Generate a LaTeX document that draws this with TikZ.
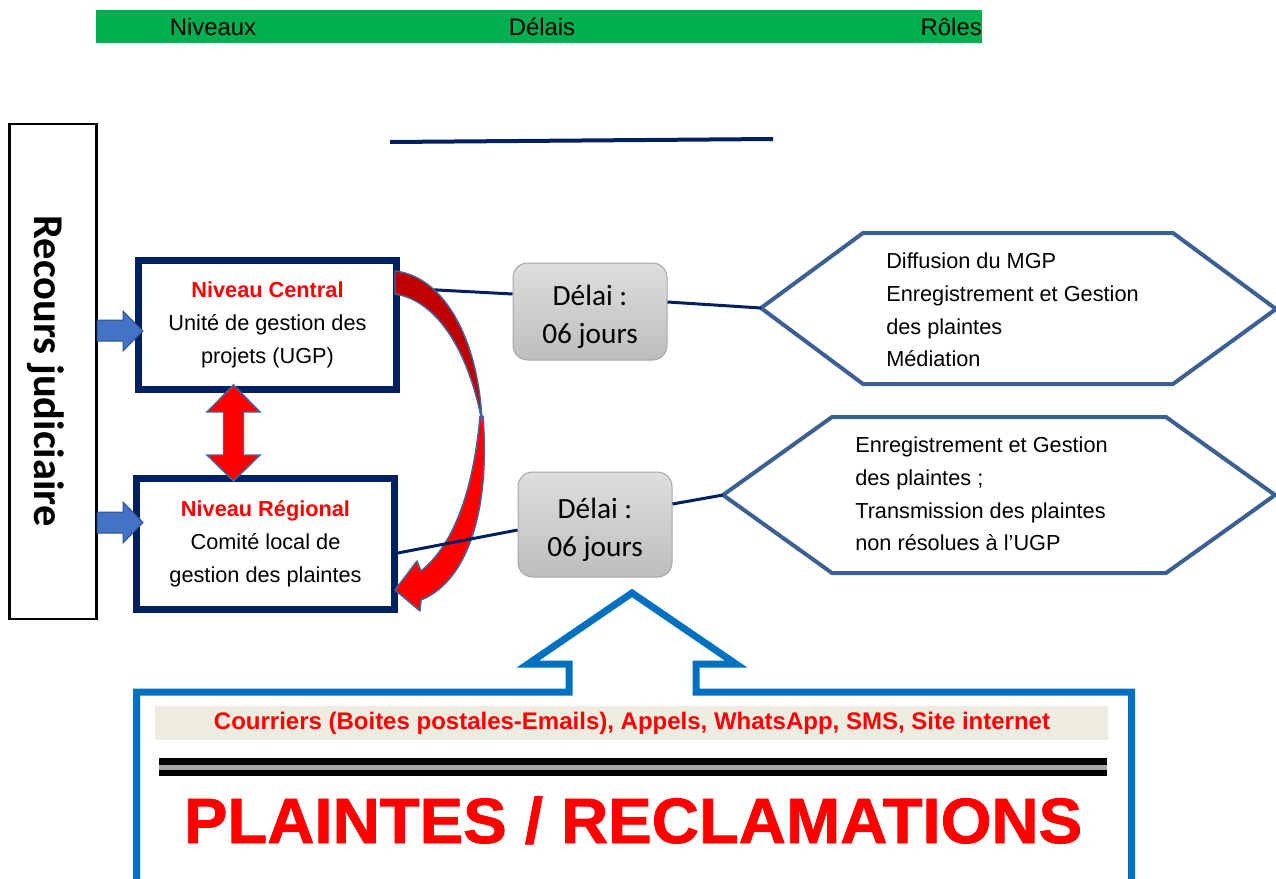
\documentclass[tikz,border=0pt]{standalone}
\usepackage{fontspec}
\setmainfont{Liberation Sans}
\newfontfamily\calibri{Carlito}
\newfontfamily\heavysans[FakeBold=1.3]{Liberation Sans Bold}
\usetikzlibrary{calc}
\definecolor{navy}{HTML}{002060}
\definecolor{hdrgreen}{HTML}{00B050}
\definecolor{hexblue}{HTML}{3C6091}
\definecolor{arrowblue}{HTML}{4472C4}
\definecolor{arrowedge}{HTML}{2F528F}
\definecolor{edgeblue}{HTML}{41669C}
\definecolor{darkred}{HTML}{C00000}
\definecolor{calloutblue}{HTML}{0070C0}
\definecolor{bandgray}{HTML}{EEECE1}
\definecolor{delaitop}{HTML}{DEDEDE}
\definecolor{delaibot}{HTML}{BDBDBD}
\definecolor{delaiedge}{HTML}{A6A6A6}
\begin{document}
\begin{tikzpicture}[x=0.75pt,y=-0.75pt,
  hdr/.style={font=\fontsize{17.9}{20}\selectfont, inner sep=0pt},
  lvl/.style={draw=navy, line width=5pt, fill=white, inner sep=0pt, minimum width=193.5pt, align=center, font=\fontsize{16.3}{24.75}\selectfont},
  delai/.style={draw=delaiedge, line width=0.75pt, rounded corners=11pt, top color=delaitop, bottom color=delaibot, minimum width=115.5pt, inner sep=0pt},
  delaitext/.style={align=center, font=\calibri\fontsize{22}{28.5}\selectfont, inner sep=0pt},
  hex/.style={draw=hexblue, line width=3pt, fill=white, line join=miter},
  hextext/.style={align=left, font=\fontsize{16.3}{24.4}\selectfont, inner sep=0pt},
  conn/.style={draw=navy, line width=2.25pt},
  barrow/.style={fill=arrowblue, draw=arrowedge, line width=0.75pt},
  darrow/.style={fill=red, draw=edgeblue, line width=1.1pt, line join=miter},
  carrow/.style={draw=edgeblue, line width=1.1pt, line join=round},
  callout/.style={draw=calloutblue, line width=5.25pt, line join=miter}
]
\useasboundingbox (0,0) rectangle (1276,878);
\clip (0,0) rectangle (1276,878);

% header
\fill[hdrgreen] (96,10) rectangle (982,43);
\node[hdr, anchor=base] (tn) at (213,35.5) {Niveaux};
\node[hdr, anchor=base] (td) at (542,35.5) {Délais};
\node[hdr, anchor=base east] (tr) at (982,35.5) {Rôles};

% top line
\coordinate (tl1) at (390,142);
\coordinate (tl2) at (773,139);
\draw[navy, line width=3pt] (tl1) -- (tl2);

% recours
\node[draw, line width=1.9pt, minimum width=65.6pt, minimum height=371pt, inner sep=0pt] (rec) at (53,371.5) {};
\node[rotate=-90, anchor=base, inner sep=0pt, font=\calibri\bfseries\fontsize{31.8}{36}\selectfont] (rect) at (34,371) {Recours judiciaire};

% level boxes
\node[lvl, minimum height=96.75pt] (c1) at (267.5,325) {{\color{red}\bfseries Niveau Central}\\Unité de gestion des\\projets (UGP)};
\node[lvl, minimum height=98.25pt] (c2) at (265.5,544) {{\color{red}\bfseries Niveau Régional}\\Comité local de\\gestion des plaintes};

% blue block arrows
\draw[barrow] (97,320) -- (123,320) -- (123,311) -- (143,331) -- (123,351) -- (123,341) -- (97,341) -- cycle;
\draw[barrow] (97,512) -- (123,512) -- (123,502) -- (143,522.5) -- (123,543) -- (123,533) -- (97,533) -- cycle;

% double block arrow
\draw[darrow] (233.5,385) -- (260,412) -- (243.5,412) -- (243.5,455) -- (260,455) -- (233.5,481) -- (207,455) -- (223.5,455) -- (223.5,412) -- (207,412) -- cycle;

% delai boxes
\node[delai, minimum height=72.75pt] (d1) at (590,311.5) {};
\node[delaitext] (d1t) at ($(d1.center)+(0,5)$) {Délai :\\06 jours};
\node[delai, minimum height=78.75pt] (d2) at (595,524.5) {};
\node[delaitext] (d2t) at ($(d2.center)+(0,5)$) {Délai :\\06 jours};

% hexagons
\coordinate (h1) at (761,308);
\draw[hex] (h1) -- (863,233) -- (1173,233) -- (1276,309) -- (1173,384) -- (863,384) -- cycle;
\node[hextext, anchor=west] (r1) at (886,310) {Diffusion du MGP\\Enregistrement et Gestion\\des plaintes\\Médiation};
\coordinate (h2) at (723,495);
\draw[hex] (h2) -- (832,417) -- (1166,417) -- (1275,495) -- (1166,573) -- (832,573) -- cycle;
\node[hextext, anchor=west] (r2) at (855,494) {Enregistrement et Gestion\\des plaintes ;\\Transmission des plaintes\\non résolues à l’UGP};

% connectors
\draw[conn] (c1.east |- 0,288) -- (d1.west |- 0,294);
\draw[conn] (d1.east |- 0,302) -- (h1);

% curved arrow
\draw[carrow, fill=red] (480,416) .. controls (473,495) and (452,546) .. (421,571) -- (417,561) -- (395,590) -- (420,611) -- (421,600) .. controls (470,580) and (490,505) .. (483,416) -- cycle;
\draw[carrow, fill=darkred] (395,271) .. controls (447,277) and (479,345) .. (482,422) .. controls (470,357) and (440,301) .. (395,294) -- cycle;

\draw[conn] (c2.east |- 0,553) -- (d2.west |- 0,530);
\draw[conn] (d2.east |- 0,504) -- (h2);

% bottom callout
\coordinate (tip) at (632,593);
\draw[callout] (136.5,890) -- (136.5,692) -- (569,692) -- (569,664) -- (528,664) -- (tip) -- (736,664) -- (696,664) -- (696,692) -- (1131.5,692) -- (1131.5,890);
\fill[bandgray] (155,706) rectangle (1108,740);
\node[text=red, font=\bfseries\fontsize{18}{20}\selectfont, inner sep=0pt] (src) at (632,723) {Courriers (Boites postales-Emails), Appels, WhatsApp, SMS, Site internet};
\fill[black] (159,758) rectangle (1107,765);
\fill[gray!70] (159,765) rectangle (1107,769.5);
\fill[black] (159,769.5) rectangle (1107,776);
\node[text=red, font=\heavysans\fontsize{48}{52}\selectfont, inner sep=0pt, anchor=base] (pl) at (633,843) {\scalebox{1.02}[1]{PLAINTES / RECLAMATIONS}};
\end{tikzpicture}
\end{document}
